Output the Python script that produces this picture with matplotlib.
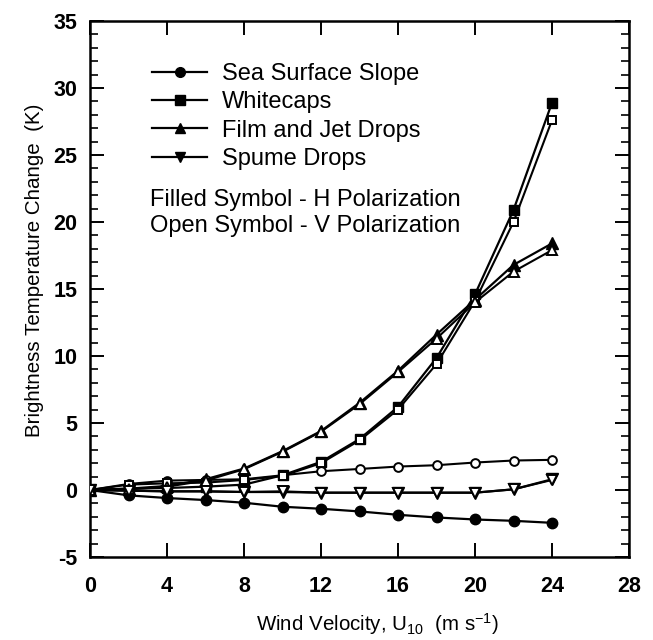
import matplotlib
matplotlib.use("Agg")
import matplotlib.pyplot as plt
from matplotlib.lines import Line2D

plt.rcParams['font.family'] = ['Liberation Sans', 'DejaVu Sans']
plt.rcParams['mathtext.default'] = 'regular'
plt.rcParams['axes.unicode_minus'] = False

wind = [0, 2, 4, 6, 8, 10, 12, 14, 16, 18, 20, 22, 24]

slope_h = [0, -0.4, -0.6, -0.75, -0.95, -1.25, -1.4, -1.6, -1.85, -2.05, -2.2, -2.3, -2.45]
slope_v = [0, 0.45, 0.7, 0.75, 0.8, 1.1, 1.4, 1.57, 1.75, 1.85, 2.05, 2.2, 2.25]
white_h = [0, 0.1, 0.15, 0.25, 0.4, 1.1, 2.1, 3.8, 6.2, 9.85, 14.6, 20.9, 28.9]
white_v = [0, 0.4, 0.5, 0.55, 0.75, 1.05, 2.0, 3.7, 6.0, 9.4, 14.1, 20.0, 27.6]
film_h = [0, 0.1, 0.3, 0.8, 1.6, 2.9, 4.4, 6.5, 8.9, 11.6, 14.2, 16.8, 18.4]
film_v = [0, 0.05, 0.25, 0.7, 1.55, 2.85, 4.35, 6.4, 8.8, 11.3, 14.0, 16.3, 17.9]
spume_h = [0, -0.05, -0.1, -0.1, -0.15, -0.15, -0.2, -0.2, -0.2, -0.2, -0.2, 0.05, 0.8]
spume_v = [0, -0.05, -0.1, -0.1, -0.15, -0.1, -0.2, -0.2, -0.2, -0.2, -0.2, 0.05, 0.75]

legend_labels = ["Sea Surface Slope", "Whitecaps", "Film and Jet Drops", "Spume Drops"]
markers = ["o", "s", "^", "v"]
h_series = [slope_h, white_h, film_h, spume_h]
v_series = [slope_v, white_v, film_v, spume_v]

xticks = [0, 4, 8, 12, 16, 20, 24, 28]
yticks = [-5, 0, 5, 10, 15, 20, 25, 30, 35]

W, H = 653, 640
fig = plt.figure(figsize=(W / 100, H / 100), dpi=100)
ax = fig.add_axes([90 / W, 1 - 557 / H, (629 - 90) / W, (557 - 21) / H])

msize = {"o": 7.5, "s": 7.0, "^": 8.0, "v": 8.0}
for m, hs, vs in zip(markers, h_series, v_series):
    ax.plot(wind, hs, color='black', lw=1.6, marker=m, ms=msize[m],
            mfc='black', mec='black', zorder=3)
    ax.plot(wind, vs, color='black', lw=1.5, marker=m, ms=msize[m] - 1.2,
            mfc='white', mec='black', mew=1.4, zorder=4)

ax.set_xlim(0, 28)
ax.set_ylim(-5, 35)
ax.set_xticks(xticks)
ax.set_yticks(yticks)
ax.set_yticks(range(-5, 36), minor=True)
ax.tick_params(axis='both', which='major', direction='in', length=10, width=1.4,
               top=True, right=True, labelsize=15.5)
ax.tick_params(axis='x', which='major', pad=14)
ax.tick_params(axis='y', which='major', pad=9)
ax.tick_params(axis='y', which='minor', direction='in', length=6, width=1.2,
               left=True, right=True)
for lab in ax.get_xticklabels() + ax.get_yticklabels():
    lab.set_fontweight('bold')
for s in ax.spines.values():
    s.set_linewidth(1.8)

ax.set_xlabel('Wind Velocity, U$_{10}$  (m s$^{-1}$)', fontsize=14.8)
ax.xaxis.set_label_coords((377 - 90) / 539, (557 - 611) / 536)
ax.set_ylabel('Brightness Temperature Change  (K)', fontsize=14.8)
ax.yaxis.set_label_coords((44 - 90) / 539, (557 - 270) / 536)

handles = [Line2D([0], [0], color='black', lw=1.6, marker=m, ms=msize[m] - 0.5,
                  mfc='black', mec='black') for m in markers]
leg = ax.legend(handles, legend_labels, loc='upper left',
                bbox_to_anchor=(152 / W, 1 - 63 / H), bbox_transform=fig.transFigure,
                frameon=False, fontsize=17, handlelength=2.35, handletextpad=0.6,
                labelspacing=0.27, borderpad=0, borderaxespad=0)

ax.text((150 - 90) / 539, (557 - 200) / 536, 'Filled Symbol - H Polarization',
        transform=ax.transAxes, fontsize=17, va='center', ha='left')
ax.text((150 - 90) / 539, (557 - 226) / 536, 'Open Symbol - V Polarization',
        transform=ax.transAxes, fontsize=17, va='center', ha='left')

fig.savefig('out.png', dpi=100)
